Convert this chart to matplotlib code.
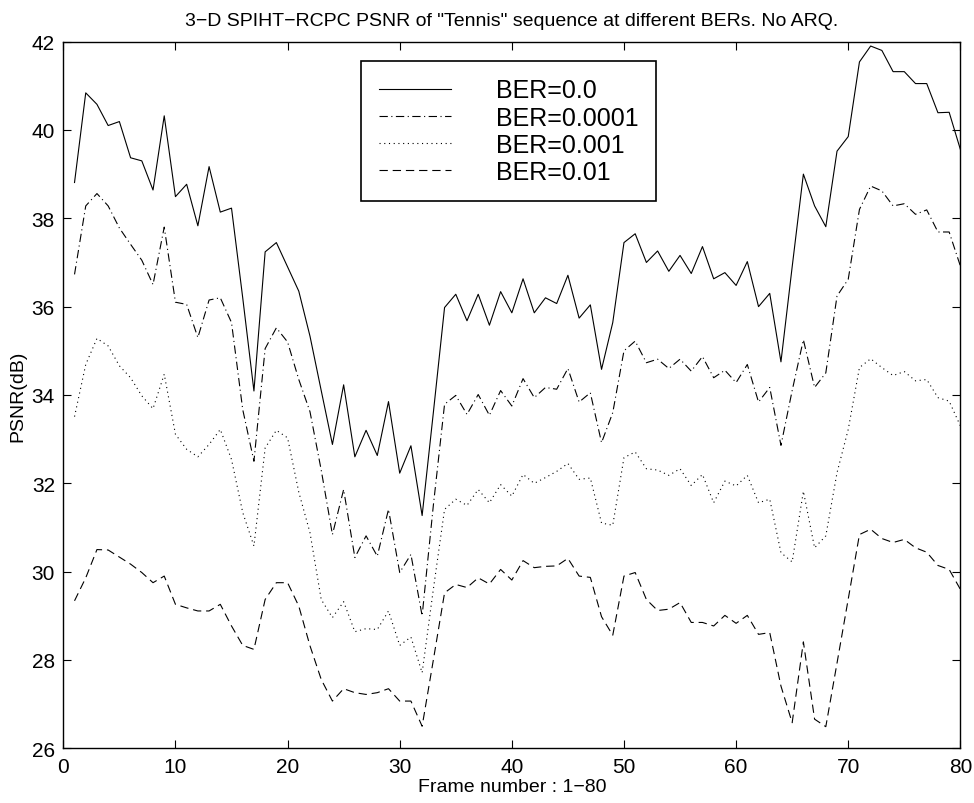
import matplotlib

matplotlib.use("Agg")
import matplotlib.pyplot as plt
import numpy as np

# PSNR (dB) per frame
frames = np.arange(1, 81)

psnr_ber_0 = [
    38.81, 40.84, 40.58, 40.10, 40.19, 39.37, 39.30, 38.64, 40.32, 38.49,
    38.77, 37.83, 39.17, 38.14, 38.23, 36.20, 34.09, 37.24, 37.45, 36.90,
    36.35, 35.33, 34.10, 32.88, 34.23, 32.60, 33.20, 32.63, 33.85, 32.23,
    32.85, 31.27, 33.60, 35.98, 36.28, 35.68, 36.28, 35.58, 36.34, 35.86,
    36.63, 35.86, 36.20, 36.07, 36.71, 35.74, 36.04, 34.58, 35.64, 37.45,
    37.65, 37.00, 37.26, 36.80, 37.16, 36.75, 37.36, 36.63, 36.77, 36.48,
    37.02, 36.00, 36.30, 34.75, 36.90, 39.00, 38.28, 37.81, 39.52, 39.85,
    41.54, 41.90, 41.80, 41.32, 41.32, 41.05, 41.05, 40.39, 40.40, 39.56,
]
psnr_ber_1e4 = [
    36.73, 38.28, 38.56, 38.28, 37.78, 37.41, 37.05, 36.50, 37.80, 36.10,
    36.05, 35.30, 36.15, 36.20, 35.64, 33.67, 32.50, 35.05, 35.52, 35.20,
    34.35, 33.62, 32.30, 30.84, 31.86, 30.32, 30.81, 30.35, 31.41, 29.98,
    30.39, 29.00, 31.50, 33.79, 33.99, 33.56, 34.01, 33.54, 34.10, 33.75,
    34.37, 33.94, 34.17, 34.13, 34.60, 33.84, 34.05, 32.92, 33.60, 35.00,
    35.22, 34.73, 34.81, 34.60, 34.81, 34.54, 34.87, 34.39, 34.56, 34.28,
    34.69, 33.84, 34.17, 32.86, 34.10, 35.25, 34.17, 34.50, 36.24, 36.62,
    38.20, 38.73, 38.62, 38.28, 38.33, 38.09, 38.19, 37.69, 37.69, 36.92,
]
psnr_ber_1e3 = [
    33.51, 34.69, 35.28, 35.11, 34.66, 34.39, 33.98, 33.69, 34.47, 33.11,
    32.77, 32.60, 32.88, 33.22, 32.54, 31.34, 30.58, 32.80, 33.20, 33.03,
    31.80, 30.88, 29.37, 28.96, 29.32, 28.64, 28.71, 28.69, 29.11, 28.33,
    28.52, 27.71, 29.60, 31.41, 31.64, 31.50, 31.86, 31.56, 31.97, 31.71,
    32.20, 32.00, 32.13, 32.27, 32.45, 32.09, 32.12, 31.10, 31.05, 32.58,
    32.71, 32.33, 32.30, 32.18, 32.33, 31.95, 32.20, 31.56, 32.05, 31.94,
    32.18, 31.56, 31.64, 30.43, 30.22, 31.82, 30.54, 30.81, 32.24, 33.22,
    34.62, 34.82, 34.62, 34.44, 34.53, 34.32, 34.35, 33.94, 33.86, 33.30,
]
psnr_ber_1e2 = [
    29.34, 29.86, 30.50, 30.49, 30.33, 30.17, 29.98, 29.75, 29.90, 29.26,
    29.18, 29.11, 29.11, 29.26, 28.77, 28.33, 28.24, 29.37, 29.75, 29.75,
    29.22, 28.32, 27.56, 27.07, 27.35, 27.26, 27.22, 27.26, 27.35, 27.07,
    27.07, 26.50, 28.00, 29.52, 29.71, 29.64, 29.86, 29.72, 30.05, 29.81,
    30.25, 30.09, 30.12, 30.13, 30.30, 29.90, 29.87, 28.98, 28.56, 29.90,
    29.98, 29.37, 29.12, 29.15, 29.30, 28.85, 28.85, 28.77, 29.01, 28.83,
    29.01, 28.58, 28.62, 27.41, 26.58, 28.41, 26.66, 26.49, 27.93, 29.38,
    30.84, 30.96, 30.75, 30.66, 30.73, 30.54, 30.44, 30.14, 30.05, 29.60,
]

labels = ["BER=0.0", "BER=0.0001", "BER=0.001", "BER=0.01"]
series = [psnr_ber_0, psnr_ber_1e4, psnr_ber_1e3, psnr_ber_1e2]
styles = ["-", (0, (6, 2.5, 0.8, 2.5)), (0, (0.8, 2.6)), (0, (6, 3.5))]

plt.rcParams.update(
    {
        "font.family": ["Liberation Sans", "DejaVu Sans"],
        "lines.scale_dashes": False,
        "axes.linewidth": 1.0,
    }
)

fig = plt.figure(figsize=(9.74, 8.04), dpi=100)
ax = fig.add_axes([0.065, 0.068, 0.921, 0.879])

for values, label, ls in zip(series, labels, styles):
    ax.plot(frames, values, color="black", lw=0.8, linestyle=ls, label=label)

ax.set_xlim(0, 80)
ax.set_ylim(26, 42)
ax.set_xticks(np.arange(0, 81, 10))
ax.set_yticks(np.arange(26, 43, 2))
ax.tick_params(direction="in", length=6, width=0.8, top=True, right=True, labelsize=15, pad=6)

ax.set_xlabel("Frame number : 1\u221280", fontsize=14, labelpad=2)
ax.set_ylabel("PSNR(dB)", fontsize=14, labelpad=4)
ax.set_title('3\u2212D SPIHT\u2212RCPC PSNR of "Tennis" sequence at different BERs. No ARQ.',
             fontsize=14, pad=12)

leg = ax.legend(
    loc="upper left",
    bbox_to_anchor=(0.332, 0.9726),
    borderaxespad=0,
    fontsize=18,
    frameon=True,
    fancybox=False,
    framealpha=1,
    edgecolor="black",
    handlelength=2.9,
    handletextpad=1.8,
    labelspacing=0.125,
    borderpad=0.7,
)
leg.get_frame().set_linewidth(1.2)

fig.savefig("out.png", dpi=100, facecolor="white")
